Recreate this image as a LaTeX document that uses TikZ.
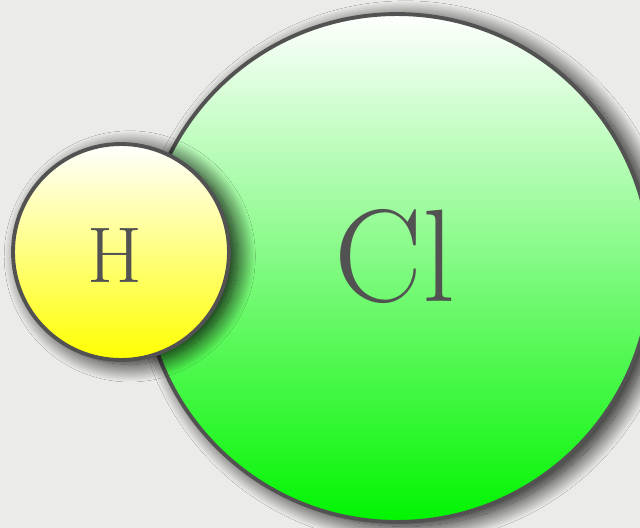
\documentclass[tikz,border=0pt]{standalone}
\usepackage{tikz}
\usetikzlibrary{shadows.blur}
\definecolor{PaperGray}{RGB}{235,235,232}
\definecolor{EdgeGray}{RGB}{82,82,82}
\definecolor{ChlorGreen}{RGB}{0,245,0}
\definecolor{HydroYellow}{RGB}{255,255,0}

\begin{document}
\begin{tikzpicture}[x=0.02cm,y=-0.02cm,
    atom/.style={circle,draw=EdgeGray,line width=2.2pt,text=EdgeGray,inner sep=0pt,
      top color=white,
      blur shadow={shadow xshift=5pt,shadow yshift=-2.5pt,shadow blur radius=10pt,
        shadow blur steps=30,shadow opacity=95}}]
  \fill[PaperGray] (0,0) rectangle (640,528);
  \useasboundingbox (0,0) rectangle (640,528);
  \clip (0,0) rectangle (640,528);
  \node[atom,bottom color=ChlorGreen,minimum size=10.16cm] (Cl) at (397,268) {};
  \node[font=\fontsize{75}{75}\selectfont,text=EdgeGray] (ClLabel) at (395,256) {Cl};
  \node[atom,bottom color=HydroYellow,minimum size=4.32cm] (H) at (121,252) {};
  \node[font=\fontsize{45}{45}\selectfont,text=EdgeGray] (HLabel) at (115,255) {H};
\end{tikzpicture}
\end{document}
